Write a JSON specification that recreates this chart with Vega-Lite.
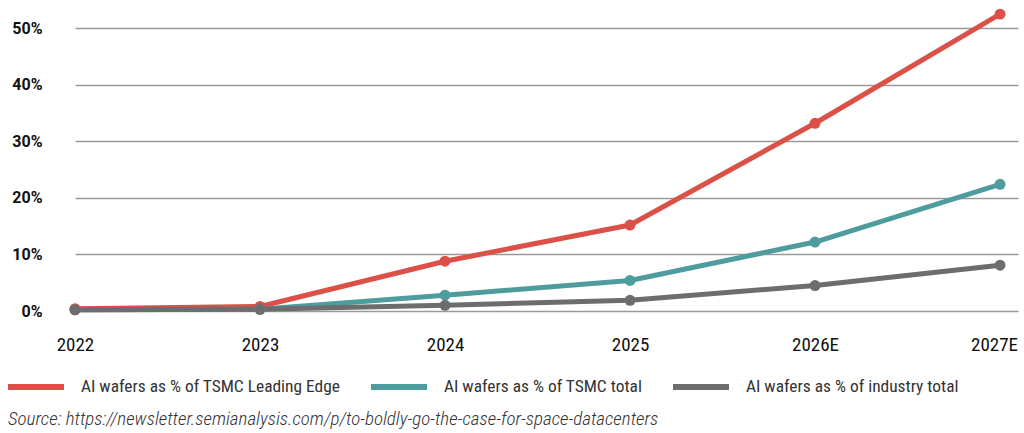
{
  "$schema": "https://vega.github.io/schema/vega-lite/v6.json",
  "width": 943,
  "height": 311,
  "autosize": {"type": "none"},
  "padding": {"left": 75, "top": 0, "right": 6, "bottom": 122},
  "background": "white",
  "title": {
    "text": "Source: https://newsletter.semianalysis.com/p/to-boldly-go-the-case-for-space-datacenters",
    "orient": "bottom",
    "anchor": "start",
    "frame": "group",
    "dx": -67,
    "offset": 11,
    "font": "Roboto Condensed, Roboto",
    "fontSize": 19,
    "fontStyle": "italic",
    "fontWeight": 300,
    "color": "#333333"
  },
  "data": {
    "values": [
      {"year": 2022, "series": "AI wafers as % of TSMC Leading Edge", "value": 0.004},
      {"year": 2023, "series": "AI wafers as % of TSMC Leading Edge", "value": 0.008},
      {"year": 2024, "series": "AI wafers as % of TSMC Leading Edge", "value": 0.088},
      {"year": 2025, "series": "AI wafers as % of TSMC Leading Edge", "value": 0.152},
      {"year": 2026, "series": "AI wafers as % of TSMC Leading Edge", "value": 0.332},
      {"year": 2027, "series": "AI wafers as % of TSMC Leading Edge", "value": 0.525},
      {"year": 2022, "series": "AI wafers as % of TSMC total", "value": 0.002},
      {"year": 2023, "series": "AI wafers as % of TSMC total", "value": 0.003},
      {"year": 2024, "series": "AI wafers as % of TSMC total", "value": 0.028},
      {"year": 2025, "series": "AI wafers as % of TSMC total", "value": 0.054},
      {"year": 2026, "series": "AI wafers as % of TSMC total", "value": 0.122},
      {"year": 2027, "series": "AI wafers as % of TSMC total", "value": 0.224},
      {"year": 2022, "series": "AI wafers as % of industry total", "value": 0.002},
      {"year": 2023, "series": "AI wafers as % of industry total", "value": 0.003},
      {"year": 2024, "series": "AI wafers as % of industry total", "value": 0.010},
      {"year": 2025, "series": "AI wafers as % of industry total", "value": 0.019},
      {"year": 2026, "series": "AI wafers as % of industry total", "value": 0.045},
      {"year": 2027, "series": "AI wafers as % of industry total", "value": 0.081}
    ]
  },
  "encoding": {
    "x": {
      "field": "year",
      "type": "quantitative",
      "scale": {"domain": [2022, 2027.097], "nice": false, "zero": false},
      "axis": {
        "title": null,
        "values": [2022, 2023, 2024, 2025, 2026, 2027],
        "labelExpr": "datum.value >= 2026 ? datum.value + 'E' : '' + datum.value",
        "grid": false,
        "domain": false,
        "ticks": false,
        "labelPadding": 24,
        "labelFont": "Roboto Condensed, Roboto",
        "labelFontSize": 19,
        "labelColor": "#111111",
        "labelFlush": false,
        "labelOffset": {"condition": {"test": "datum.value == 2027", "value": -6}, "value": 0}
      }
    },
    "y": {
      "field": "value",
      "type": "quantitative",
      "scale": {"domain": [0, 0.55], "nice": false},
      "axis": {
        "title": null,
        "values": [0, 0.1, 0.2, 0.3, 0.4, 0.5],
        "format": ".0%",
        "grid": true,
        "gridColor": "#9a9a9a",
        "gridWidth": 1.5,
        "domain": false,
        "ticks": false,
        "labelPadding": 33,
        "labelFont": "Roboto",
        "labelFontWeight": "bold",
        "labelFontSize": 16,
        "labelColor": "#111111"
      }
    },
    "color": {
      "field": "series",
      "type": "nominal",
      "scale": {
        "domain": ["AI wafers as % of TSMC Leading Edge", "AI wafers as % of TSMC total", "AI wafers as % of industry total"],
        "range": ["#db5047", "#4e9c9e", "#6d6d6f"]
      },
      "legend": {
        "title": null,
        "orient": "none",
        "direction": "horizontal",
        "legendX": -70,
        "legendY": 356,
        "padding": 0,
        "symbolType": "stroke",
        "symbolSize": 3136,
        "symbolStrokeWidth": 6,
        "columnPadding": 18,
        "labelOffset": 14,
        "labelFont": "Roboto Condensed, Roboto",
        "labelFontSize": 17.4,
        "labelColor": "#333333",
        "labelLimit": 400
      }
    }
  },
  "layer": [
    {"mark": {"type": "line", "strokeWidth": 5, "strokeCap": "round", "strokeJoin": "round"}},
    {"mark": {"type": "point", "filled": true, "size": 120, "opacity": 1}, "encoding": {"color": {"field": "series", "type": "nominal", "legend": null}}}
  ],
  "config": {"view": {"stroke": null}}
}
